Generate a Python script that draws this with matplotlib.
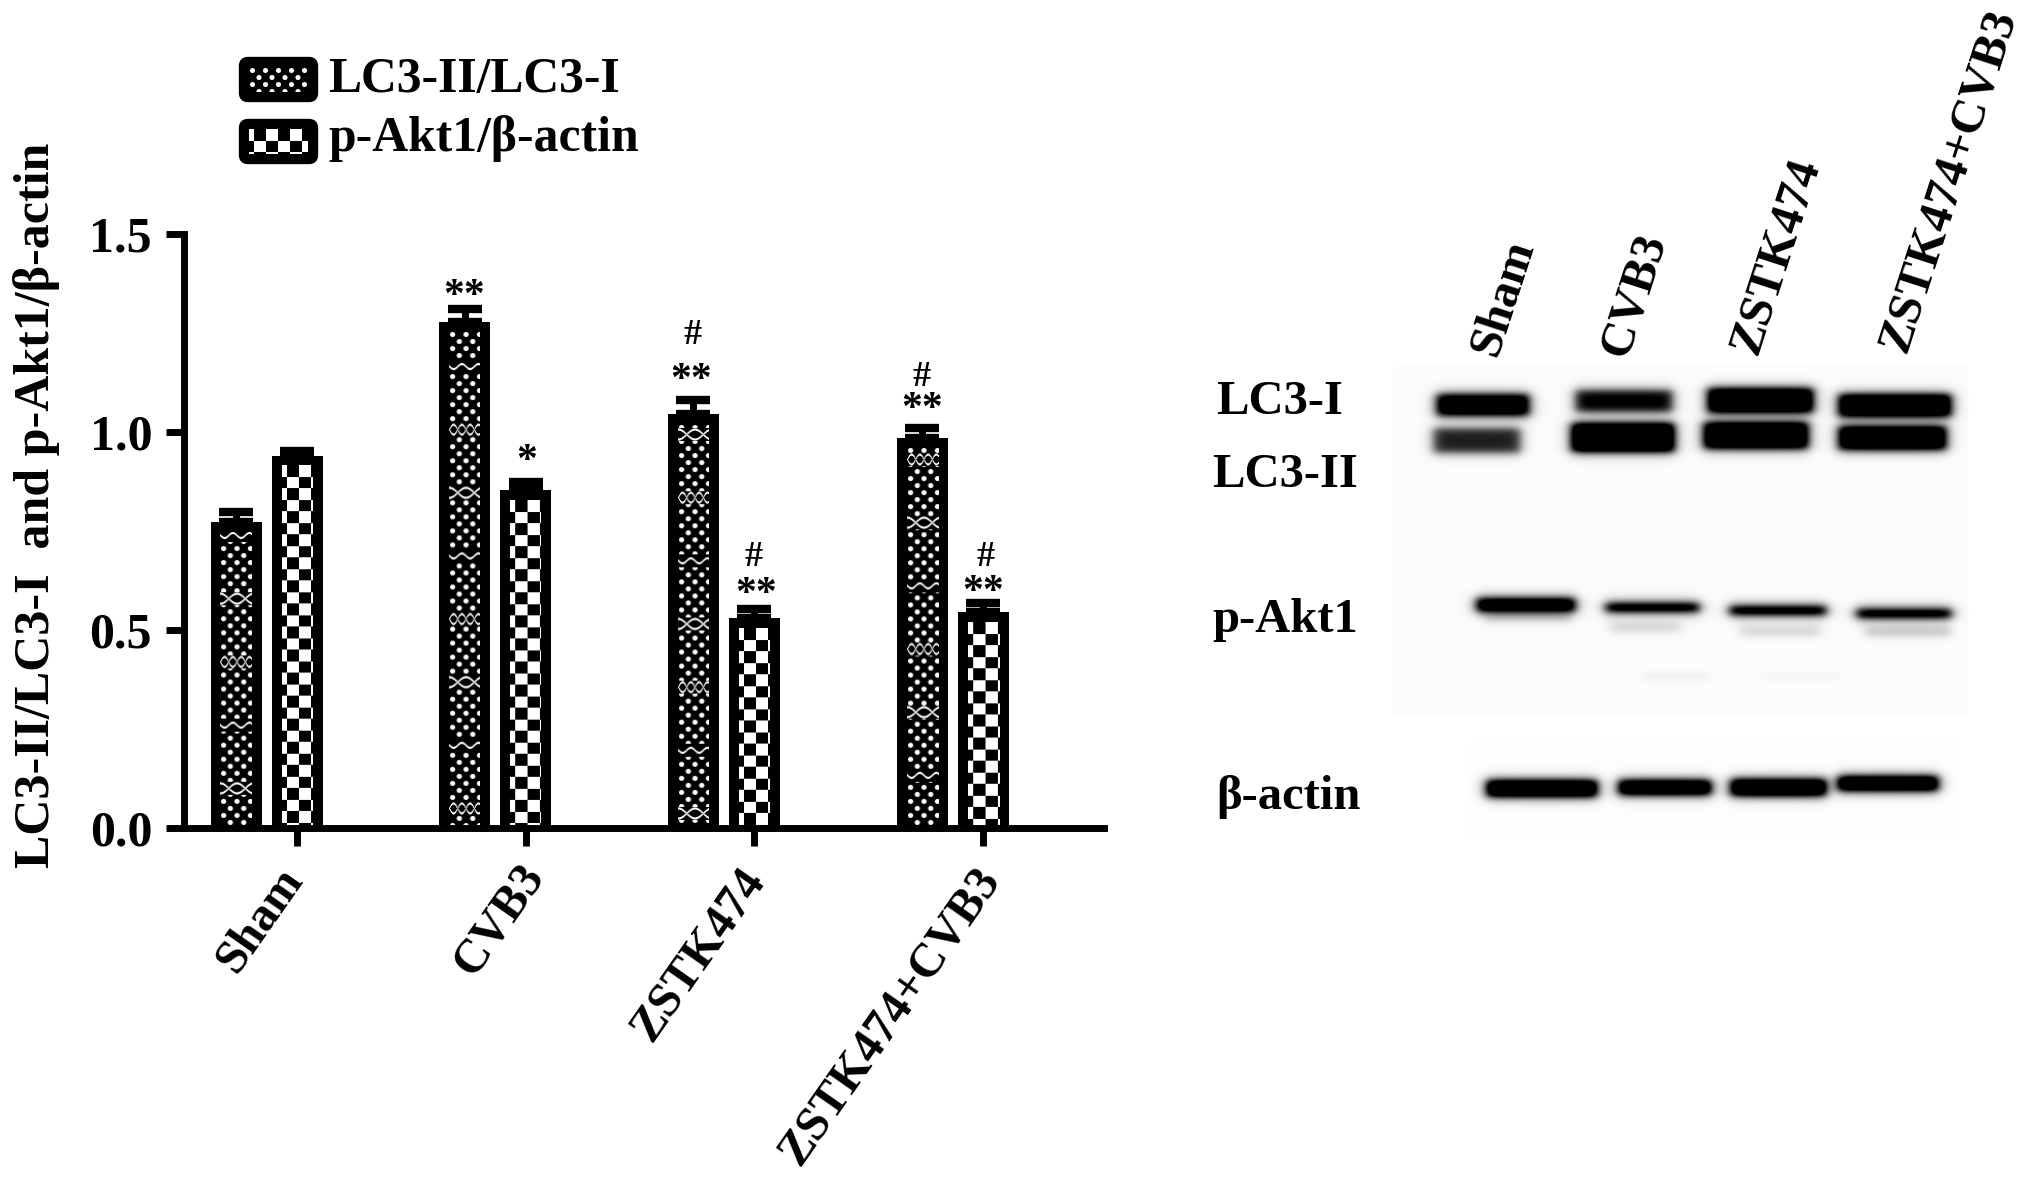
import matplotlib
matplotlib.use("Agg")
import matplotlib.pyplot as plt
import matplotlib.transforms as mtrans
from matplotlib.patches import FancyBboxPatch
import numpy as np

W, H = 2031, 1182

groups = ["Sham", "CVB3", "ZSTK474", "ZSTK474+CVB3"]
lc3_ratio = [0.773, 1.278, 1.045, 0.985]
lc3_err = [0.025, 0.032, 0.035, 0.025]
akt_ratio = [0.94, 0.853, 0.53, 0.545]
akt_err = [0.012, 0.02, 0.022, 0.022]
y_ticks = [0.0, 0.5, 1.0, 1.5]

# centre of each rotated group label, px
group_label_pos = [(260, 920), (499, 920), (699, 955), (890, 1016)]

# text, x px, y px
marks = [("**", 464, 297), ("*", 527, 462),
         ("#", 693, 335), ("**", 691, 381),
         ("#", 754, 557), ("**", 756, 595),
         ("#", 922, 378), ("**", 922, 410),
         ("#", 986, 557), ("**", 983, 593)]

# blot bands: x0, x1, y0, y1, darkness
bands = [(1436, 1529, 394, 415, 1.1), (1575, 1672, 390, 411, 0.85),
         (1707, 1813, 388, 412, 1.2), (1838, 1951, 394, 416, 1.2),
         (1433, 1520, 428, 452, 0.72), (1571, 1674, 423, 451, 1.3),
         (1703, 1808, 422, 448, 1.2), (1838, 1946, 426, 449, 1.2),
         (1476, 1575, 598, 611, 1.2), (1605, 1699, 603, 611, 1.2),
         (1729, 1826, 606, 614, 1.2), (1856, 1951, 609, 617, 1.2),
         (1486, 1597, 780, 796, 1.3), (1618, 1711, 780, 794, 1.3),
         (1730, 1826, 779, 795, 1.3), (1837, 1938, 776, 790, 1.3)]
# faint smears under the p-Akt1 bands
smears = [(1485, 1570, 613, 621, 0.18), (1610, 1680, 621, 632, 0.14),
          (1740, 1820, 625, 636, 0.14), (1865, 1950, 626, 636, 0.2),
          (1640, 1710, 672, 680, 0.04), (1760, 1840, 672, 680, 0.03)]
blot_rows = [("LC3-I", 1216, 402), ("LC3-II", 1212, 475),
             ("p-Akt1", 1212, 620), ("β-actin", 1216, 797)]
lane_labels = [("Sham", 1503, 298), ("CVB3", 1634, 295),
               ("ZSTK474", 1777, 256), ("ZSTK474+CVB3", 1949, 180)]

# order of the woven rows in each dotted bar, top to bottom
weave_order = [("wave", "x", "8"), ("wave", "8", "x"), ("x", "8", "wave"), ("8", "x", "wave")]
weave_first = [4, 35, 10, 12]

plt.rcParams["font.family"] = ["Liberation Serif", "DejaVu Sans"]
plt.rcParams["font.weight"] = "bold"

SPINE_L, SPINE_R, Y_TOP, Y_BASE = 184, 1104, 234, 828
TICK0, STEP = 297, 228.7
BAR_W, OFFSET = 51, 61
INSET = 10
FS = 35


def dots(h, w, order=("wave", "x", "8"), first=28):
    img = np.zeros((h, w))
    yy, xx = np.mgrid[0:h, 0:w]
    for row in range(-1, h // 7 + 2):
        shift = 6.5 if row % 2 else 0
        for col in range(-1, w // 13 + 2):
            d = np.hypot(yy - row * 7 - 3, xx - col * 13 - shift - 3)
            img = np.maximum(img, np.clip(3.0 - d, 0, 1))
    # the little woven rows of the print pattern
    for n, start in enumerate(range(first, h, 63)):
        kind = order[n % 3]
        img[max(start - 6, 0):start + 7, :] = 0
        if kind == "wave":
            curves = [start + 2.5 * np.sin(xx * 2 * np.pi / 16)]
        elif kind == "x":
            curves = [start + s * 5 * np.cos(xx * 2 * np.pi / 32) for s in (1, -1)]
        else:
            curves = [start + s * 5 * np.sin(xx * 2 * np.pi / 16) for s in (1, -1)]
        for c in curves:
            line = np.clip(1.6 - np.abs(yy - c), 0, 1)
            line[np.abs(yy - start) > 7] = 0
            img = np.maximum(img, line)
    return img


def checks(h, w, order=None, first=None):
    yy, xx = np.mgrid[0:h, 0:w]
    a = (xx + 7) % 24 < 12
    b = yy % 23 < 11.5
    c = (a & b) | (~a & ~b)
    return c.astype(float)


fig = plt.figure(figsize=(W / 100, H / 100), dpi=100, facecolor="white")
ax = fig.add_axes([SPINE_L / W, 1 - Y_BASE / H, (SPINE_R - SPINE_L) / W, (Y_BASE - Y_TOP) / H])
over = fig.add_axes([0, 0, 1, 1], zorder=-1)
over.set_xlim(0, W)
over.set_ylim(H, 0)
over.axis("off")
label_ax = fig.add_axes([0, 0, 1, 1], zorder=5)
label_ax.set_xlim(0, W)
label_ax.set_ylim(H, 0)
label_ax.axis("off")
label_ax.patch.set_alpha(0)

x = np.arange(len(groups))
xlim = (-(TICK0 - SPINE_L) / STEP, (SPINE_R - TICK0) / STEP)
bw = BAR_W / STEP
off = OFFSET / STEP
ypx = (Y_BASE - Y_TOP) / 1.5

ax.errorbar(x - off, lc3_ratio, yerr=[np.zeros(4), lc3_err], fmt="none", ecolor="k",
            elinewidth=5, capsize=12, capthick=6, zorder=1)
ax.errorbar(x, akt_ratio, yerr=[np.zeros(4), akt_err], fmt="none", ecolor="k",
            elinewidth=5, capsize=12, capthick=6, zorder=1)
bars1 = ax.bar(x - off, lc3_ratio, bw, color="black", zorder=2)
bars2 = ax.bar(x, akt_ratio, bw, color="black", zorder=2)

for bars, pattern in ((bars1, dots), (bars2, checks)):
    for i, b in enumerate(bars):
        x0 = b.get_x() + INSET / STEP
        x1 = b.get_x() + b.get_width() - INSET / STEP
        top = b.get_height() - INSET / ypx
        h_px = int((top * ypx))
        w_px = int((x1 - x0) * STEP)
        ax.imshow(pattern(h_px, w_px, weave_order[i], weave_first[i]), extent=(x0, x1, 0, top),
                  origin="upper", cmap="gray", vmin=0, vmax=1, aspect="auto", zorder=3,
                  interpolation="bilinear")

ax.set_xlim(*xlim)
ax.set_ylim(0, 1.5)
ax.patch.set_alpha(0)
ax.spines["top"].set_visible(False)
ax.spines["right"].set_visible(False)
ax.spines["left"].set_linewidth(5)
ax.spines["bottom"].set_linewidth(5)
ax.spines["left"].set_zorder(6)
ax.spines["bottom"].set_zorder(6)
ax.set_yticks(y_ticks, [f"{v:.1f}" for v in y_ticks], fontsize=36, fontweight="bold")
ax.set_xticks(x, groups, fontsize=34.5, fontweight="bold", rotation=55, ha="center", va="center")
ax.tick_params(axis="both", width=5, length=13, pad=10)
anchor_y = Y_BASE + (13 + 10) * 100 / 72
for i, t in enumerate(ax.get_xticklabels()):
    dx = group_label_pos[i][0] - (TICK0 + i * STEP)
    dy = anchor_y - group_label_pos[i][1]
    t.set_transform(t.get_transform() + mtrans.ScaledTranslation(dx / 100, dy / 100, fig.dpi_scale_trans))

label_ax.text(37, 505, "LC3-II/LC3-I  and p-Akt1/β-actin", rotation=90, ha="center",
              va="center", fontsize=36)

for txt, px, py in marks:
    label_ax.text(px, py, txt, ha="center", va="center", fontsize=26 if txt == "#" else 30)

# legend
for (top, pattern, name, dy) in ((57, dots, "LC3-II/LC3-I", 23), (119, checks, "p-Akt1/β-actin", 19)):
    over.add_patch(FancyBboxPatch((243, top + 4), 71, 37, boxstyle="round,pad=0,rounding_size=5",
                                  fc="black", ec="black", lw=6))
    label_ax.imshow(pattern(25, 59, ("x", "8", "wave"), 60), extent=(249, 308, top + 35, top + 10),
                    cmap="gray", vmin=0, vmax=1, aspect="auto", interpolation="bilinear")
    label_ax.text(328, top + dy, name, ha="left", va="center", fontsize=35.7)
label_ax.set_xlim(0, W)
label_ax.set_ylim(H, 0)

# blot panel
bx0, bx1, by0, by1 = 1380, 1985, 355, 850
yy, xx = np.mgrid[by0:by1, bx0:bx1]
dark = np.zeros(xx.shape)
dark[(yy > 365) & (yy < 715) & (xx > 1392) & (xx < 1968)] = 0.015
dark[(yy > 740) & (yy < 840) & (xx > 1470) & (xx < 1960)] = 0.008


def soft_band(x0, x1, y0, y1, d, sx, sy):
    px = 0.5 * (np.tanh((xx - x0) / sx) - np.tanh((xx - x1) / sx))
    py = 0.5 * (np.tanh((yy - y0) / sy) - np.tanh((yy - y1) / sy))
    return d * px * py


for x0, x1, y0, y1, d in bands:
    dark += soft_band(x0, x1, y0, y1, d, 6.0, 4.5)
    dark += soft_band(x0, x1, y0 - 4, y1 + 4, 0.22 * d, 9.0, 6.0)
for x0, x1, y0, y1, d in smears:
    dark += soft_band(x0, x1, y0, y1, d, 6.0, 4.0)
over.imshow(1 - np.clip(dark, 0, 1), extent=(bx0, bx1, by1, by0), cmap="gray", vmin=0, vmax=1,
            aspect="auto")
over.set_xlim(0, W)
over.set_ylim(H, 0)

for txt, px, py in blot_rows:
    label_ax.text(px, py, txt, ha="left", va="center", fontsize=FS)
for txt, px, py in lane_labels:
    label_ax.text(px, py, txt, rotation=72, ha="center", va="center", fontsize=35)

fig.savefig("out.png", dpi=100)
